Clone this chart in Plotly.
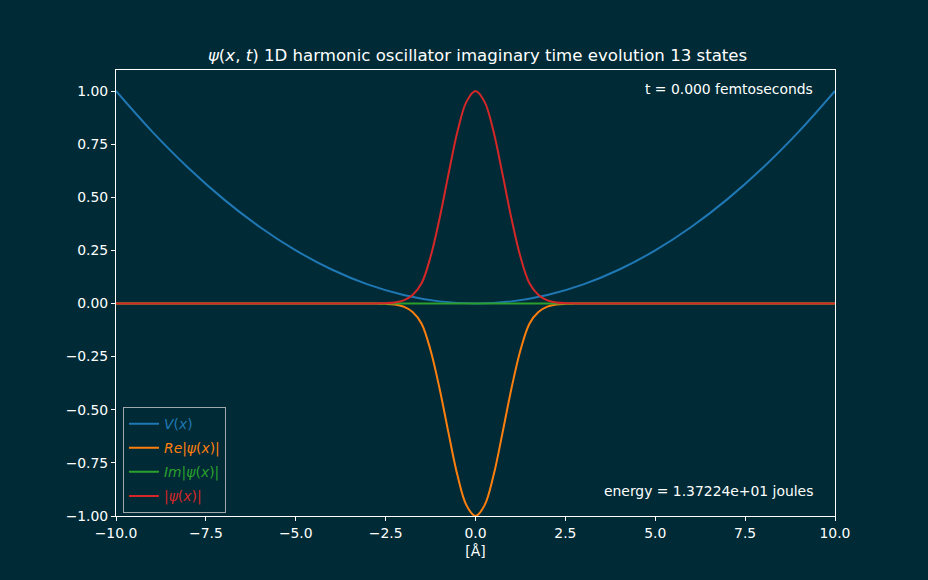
import plotly.graph_objects as go

# --- DATA ---
x_pot = [-10, -9, -8, -7, -6, -5, -4, -3, -2, -1, 0, 1, 2, 3, 4, 5, 6, 7, 8, 9, 10]
v_pot = [1.00, 0.81, 0.64, 0.49, 0.36, 0.25, 0.16, 0.09, 0.04, 0.01, 0.00,
         0.01, 0.04, 0.09, 0.16, 0.25, 0.36, 0.49, 0.64, 0.81, 1.00]

x_psi = [-10, -6, -4, -3.5, -3.0, -2.75, -2.5, -2.25, -2.0, -1.75, -1.5, -1.25, -1.0,
         -0.75, -0.5, -0.25, 0.0, 0.25, 0.5, 0.75, 1.0, 1.25, 1.5, 1.75, 2.0,
         2.25, 2.5, 2.75, 3.0, 3.5, 4, 6, 10]
abs_psi = [0, 0, 0, 0, 0, 0.0005, 0.0015, 0.005, 0.015, 0.04, 0.095, 0.22, 0.40,
           0.61, 0.81, 0.95, 1.00, 0.95, 0.81, 0.61, 0.40, 0.22, 0.095, 0.04, 0.015,
           0.005, 0.0015, 0.0005, 0, 0, 0, 0, 0]
re_psi = [0, 0, 0, 0, 0, -0.0005, -0.0015, -0.005, -0.015, -0.04, -0.095, -0.22, -0.40,
          -0.61, -0.81, -0.95, -1.00, -0.95, -0.81, -0.61, -0.40, -0.22, -0.095, -0.04, -0.015,
          -0.005, -0.0015, -0.0005, 0, 0, 0, 0, 0]
im_psi = [0] * len(x_psi)

t_text = "t = 0.000 femtoseconds"
energy_text = "energy = 1.37224e+01 joules"

bg = "#002b36"
font = "DejaVu Sans"
fs = 13.9

fig = go.Figure()

# Potential
fig.add_trace(go.Scatter(x=x_pot, y=v_pot, mode="lines", line=dict(color="#1f77b4", width=2, shape="spline"),
                         legendgroup="v", name="<span style='color:#1f77b4'><i>V</i>(<i>x</i>)</span>"))
# Real part
fig.add_trace(go.Scatter(x=x_psi, y=re_psi, mode="lines", line=dict(color="#ff7f0e", width=2, shape="spline"),
                         legendgroup="re", name="<span style='color:#ff7f0e'><i>Re</i>|<i>ψ</i>(<i>x</i>)|</span>"))
# Imag part
fig.add_trace(go.Scatter(x=x_psi, y=im_psi, mode="lines", line=dict(color="#2ca02c", width=2),
                         legendgroup="im", name="<span style='color:#2ca02c'><i>Im</i>|<i>ψ</i>(<i>x</i>)|</span>"))
# Modulus
fig.add_trace(go.Scatter(x=x_psi, y=abs_psi, mode="lines", line=dict(color="#d62728", width=2, shape="spline"),
                         legendgroup="abs", name="<span style='color:#d62728'>|<i>ψ</i>(<i>x</i>)|</span>"))

fig.add_annotation(x=0.9715, y=0.957, xref="paper", yref="paper", text=t_text, showarrow=False,
                   xanchor="right", yanchor="middle", font=dict(size=fs, color="white"))
fig.add_annotation(x=0.9715, y=0.056, xref="paper", yref="paper", text=energy_text, showarrow=False,
                   xanchor="right", yanchor="middle", font=dict(size=fs, color="white"))

fig.update_layout(
    width=928, height=580,
    paper_bgcolor=bg, plot_bgcolor=bg,
    font=dict(family=font, size=fs, color="white"),
    margin=dict(l=116, r=93, t=70, b=64),
    title=dict(text="<i>ψ</i>(<i>x</i>, <i>t</i>) 1D harmonic oscillator imaginary time evolution 13 states",
               x=0.5146, xanchor="center", y=0.905, yanchor="middle", font=dict(size=16.6, color="white")),
    showlegend=True,
    legend=dict(x=0.0097, y=0.244, xanchor="left", yanchor="top", bgcolor=bg,
                bordercolor="#a0a8ab", borderwidth=1, font=dict(size=fs), tracegroupgap=3),
)
fig.update_xaxes(range=[-10, 10], tickvals=[-10, -7.5, -5, -2.5, 0, 2.5, 5, 7.5, 10], tickformat=".1f",
                 showgrid=False, zeroline=False, showline=True, linecolor="white", linewidth=1, mirror=True,
                 ticks="outside", ticklen=4, tickcolor="white",
                 title=dict(text="[Å]", font=dict(size=fs, color="white"), standoff=6))
fig.update_yaxes(range=[-1.0, 1.0988], tickvals=[-1, -0.75, -0.5, -0.25, 0, 0.25, 0.5, 0.75, 1.0],
                 tickformat=".2f", showgrid=False, zeroline=False, showline=True, linecolor="white",
                 linewidth=1, mirror=True, ticks="outside", ticklen=4, tickcolor="white")

fig.write_html("out.html", config={"displayModeBar": False},
               post_script="document.body.style.margin='0';")
